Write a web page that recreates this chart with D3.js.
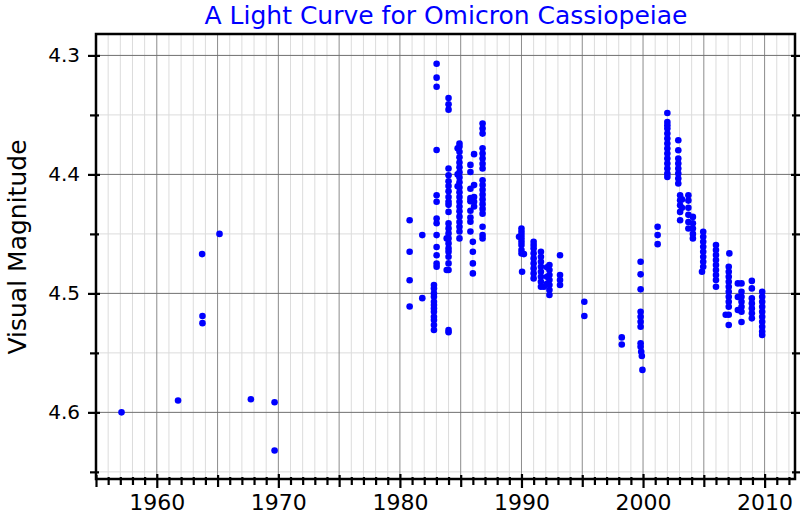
<!DOCTYPE html>
<html>
<head>
<meta charset="utf-8">
<script src="https://cdn.jsdelivr.net/npm/d3@7"></script>
<style>
  body { margin: 0; background: #fff; }
  svg { font-family: 'DejaVu Sans', sans-serif; }
</style>
</head>
<body>
<div id="chart"></div>
<script>
// observations as [year, visual magnitude], grouped by era
const early = [
  [1957.1, 4.600], [1961.75, 4.590], [1963.73, 4.467], [1963.76, 4.519], [1963.76, 4.525],
  [1965.16, 4.450], [1967.74, 4.589], [1969.69, 4.5915], [1969.69, 4.632]
]

const max1985 = [
  [1980.8, 4.4385], [1980.8, 4.465], [1980.8, 4.489], [1980.8, 4.511],
  [1981.84, 4.451], [1981.84, 4.504],
  [1983.02, 4.307], [1983.02, 4.3187], [1983.02, 4.3263], [1983.02, 4.3795], [1983.02, 4.4175],
  [1983.02, 4.423], [1983.02, 4.437], [1983.02, 4.441], [1983.02, 4.451], [1983.02, 4.461],
  [1983.02, 4.468], [1983.02, 4.475], [1983.02, 4.4776],
  [1982.8, 4.493], [1982.8, 4.4958], [1982.8, 4.5], [1982.8, 4.5028], [1982.8, 4.507],
  [1982.8, 4.5098], [1982.8, 4.5126], [1982.8, 4.5154], [1982.8, 4.5196], [1982.8, 4.5224],
  [1982.8, 4.5266], [1982.8, 4.5308],
  [1984.0, 4.3358], [1984.0, 4.341], [1984.0, 4.3456], [1984.0, 4.395], [1984.0, 4.4007],
  [1984.0, 4.4057], [1984.0, 4.4097], [1984.0, 4.4141], [1984.0, 4.419], [1984.0, 4.423],
  [1984.0, 4.4256], [1984.0, 4.4315], [1984.0, 4.4412], [1984.0, 4.4454], [1984.0, 4.4496],
  [1984.0, 4.4538], [1984.0, 4.458], [1984.0, 4.4622], [1984.0, 4.465], [1984.0, 4.4692],
  [1984.0, 4.4748], [1984.0, 4.4804], [1984.0, 4.5308], [1984.0, 4.5327],
  [1983.85, 4.4804], [1983.85, 4.4538],
  [1984.9, 4.374], [1984.9, 4.3765], [1984.9, 4.381], [1984.9, 4.3856], [1984.9, 4.39],
  [1984.9, 4.394], [1984.9, 4.3982], [1984.9, 4.4025], [1984.9, 4.4067], [1984.9, 4.411],
  [1984.9, 4.415], [1984.9, 4.419], [1984.9, 4.423], [1984.9, 4.427], [1984.9, 4.431],
  [1984.9, 4.4355], [1984.9, 4.44], [1984.9, 4.444], [1984.9, 4.448], [1984.9, 4.4538],
  [1984.75, 4.378], [1984.75, 4.4], [1984.75, 4.41],
  [1985.8, 4.392], [1985.8, 4.398], [1985.8, 4.412], [1985.8, 4.4198], [1985.8, 4.4225],
  [1985.8, 4.4306], [1985.8, 4.4362], [1985.8, 4.4398], [1985.8, 4.448],
  [1986.1, 4.383], [1986.1, 4.409], [1986.1, 4.419], [1986.1, 4.423], [1986.1, 4.427],
  [1986.0, 4.4567], [1986.0, 4.465], [1986.0, 4.4748], [1986.0, 4.4832],
  [1986.8, 4.3573], [1986.8, 4.3615], [1986.8, 4.3657], [1986.8, 4.378], [1986.8, 4.3825],
  [1986.8, 4.3867], [1986.8, 4.391], [1986.8, 4.395], [1986.8, 4.405], [1986.8, 4.409],
  [1986.8, 4.413], [1986.8, 4.417], [1986.8, 4.421], [1986.8, 4.425], [1986.8, 4.429],
  [1986.8, 4.433], [1986.8, 4.444], [1986.8, 4.451], [1986.8, 4.4538]
]

const fade1990 = [
  [1990.0, 4.4455], [1990.0, 4.4483], [1990.0, 4.451], [1990.0, 4.4538], [1990.0, 4.4566],
  [1990.0, 4.4594], [1990.0, 4.4636], [1990.0, 4.4664], [1990.05, 4.4818], [1989.8, 4.4524],
  [1990.2, 4.467],
  [1991.0, 4.4567], [1991.0, 4.4594], [1991.0, 4.4622], [1991.0, 4.4664], [1991.0, 4.4706],
  [1991.0, 4.4748], [1991.0, 4.479], [1991.0, 4.4832], [1991.0, 4.4874],
  [1991.6, 4.465], [1991.6, 4.4692], [1991.6, 4.4734], [1991.6, 4.4776], [1991.6, 4.4818],
  [1991.6, 4.486], [1991.6, 4.4902], [1991.6, 4.4944], [1991.85, 4.4944],
  [1992.3, 4.4762], [1992.3, 4.4804], [1992.3, 4.4846], [1992.3, 4.4888], [1992.3, 4.493],
  [1992.3, 4.4972], [1992.3, 4.5014], [1992.1, 4.478], [1992.1, 4.486], [1992.1, 4.492],
  [1993.17, 4.468], [1993.17, 4.4846], [1993.17, 4.4888], [1993.17, 4.493]
]

const minimum1999 = [
  [1995.17, 4.507], [1995.17, 4.519], [1998.25, 4.537], [1998.25, 4.543],
  [1999.8, 4.4734], [1999.8, 4.484], [1999.8, 4.4966], [1999.8, 4.5154], [1999.8, 4.5196],
  [1999.8, 4.5238], [1999.8, 4.528], [1999.8, 4.5419], [1999.8, 4.5448], [1999.85, 4.549],
  [1999.9, 4.5526], [1999.95, 4.5643]
]

const max2002 = [
  [2001.2, 4.4441], [2001.2, 4.451], [2001.2, 4.4586],
  [2002.0, 4.3484], [2002.0, 4.356], [2002.0, 4.3587], [2002.0, 4.3615], [2002.0, 4.3657],
  [2002.0, 4.3699], [2002.0, 4.3741], [2002.0, 4.3783], [2002.0, 4.3825], [2002.0, 4.3867],
  [2002.0, 4.3909], [2002.0, 4.395], [2002.0, 4.3993], [2002.0, 4.4021],
  [2002.9, 4.3713], [2002.9, 4.3797], [2002.9, 4.3867], [2002.9, 4.3909], [2002.9, 4.395],
  [2002.9, 4.3993], [2002.9, 4.4035], [2002.9, 4.4077],
  [2003.05, 4.4175], [2003.05, 4.4217], [2003.05, 4.4259], [2003.05, 4.4315], [2003.05, 4.4385],
  [2003.2, 4.421], [2003.2, 4.428],
  [2003.73, 4.4175], [2003.73, 4.422], [2003.73, 4.428], [2003.73, 4.434], [2003.73, 4.44],
  [2003.73, 4.4455],
  [2004.1, 4.4357], [2004.1, 4.441], [2004.1, 4.4455], [2004.1, 4.45], [2004.1, 4.4538]
]

const fade2008 = [
  [2004.95, 4.4483], [2004.95, 4.4524], [2004.95, 4.4566], [2004.95, 4.4608], [2004.95, 4.465],
  [2004.95, 4.4692], [2004.95, 4.4734], [2004.95, 4.4776], [2004.85, 4.4818],
  [2006.0, 4.4594], [2006.0, 4.4636], [2006.0, 4.4678], [2006.0, 4.472], [2006.0, 4.4762],
  [2006.0, 4.4804], [2006.0, 4.4846], [2006.0, 4.4888], [2006.0, 4.4944],
  [2007.1, 4.4664], [2007.05, 4.4776], [2007.05, 4.4818], [2007.05, 4.486], [2007.05, 4.4902],
  [2007.05, 4.4944], [2007.05, 4.4986], [2007.05, 4.5028], [2007.05, 4.507], [2007.05, 4.5112],
  [2007.05, 4.518], [2007.05, 4.5266], [2006.8, 4.518],
  [2008.1, 4.4916], [2008.1, 4.4986], [2008.1, 4.5028], [2008.1, 4.507], [2008.1, 4.5112],
  [2008.1, 4.5154], [2008.1, 4.524], [2007.8, 4.4916], [2007.8, 4.503], [2007.8, 4.514],
  [2008.95, 4.4895], [2008.95, 4.4958], [2008.95, 4.5042], [2008.95, 4.5084], [2008.95, 4.5126],
  [2008.95, 4.5168], [2008.95, 4.521],
  [2009.8, 4.4986], [2009.8, 4.5028], [2009.8, 4.507], [2009.8, 4.5112], [2009.8, 4.5154],
  [2009.8, 4.5196], [2009.8, 4.5238], [2009.8, 4.528], [2009.8, 4.532], [2009.8, 4.535]
]

const yearTicks = [1960, 1970, 1980, 1990, 2000, 2010]
const magTicks = [4.3, 4.4, 4.5, 4.6]

const width = 800
const height = 520
const margin = { top: 34, right: 5, bottom: 41, left: 96 }

const svg = d3.select('#chart')
  .append('svg')
  .attr('width', width)
  .attr('height', height)

const x = d3.scaleLinear()
  .domain([1955, 2012.5])
  .range([margin.left, width - margin.right])

// magnitudes: brighter (smaller) at the top
const y = d3.scaleLinear()
  .domain([4.282, 4.656])
  .range([margin.top, height - margin.bottom])

const allYears = d3.range(1955, 2013)
const allMags = d3.range(4.30, 4.66, 0.05).map(d => +d.toFixed(2))
const isMajorMag = d => Math.abs(d * 10 - Math.round(d * 10)) < 1e-6

// grid
const grid = svg.append('g').attr('class', 'grid')
grid.selectAll('line.vminor')
  .data(allYears.filter(d => d % 5 !== 0))
  .enter().append('line')
  .attr('x1', d => x(d)).attr('x2', d => x(d))
  .attr('y1', margin.top).attr('y2', height - margin.bottom)
  .attr('stroke', '#dcdcdc').attr('stroke-width', 1)
grid.selectAll('line.hminor')
  .data(allMags.filter(d => !isMajorMag(d)))
  .enter().append('line')
  .attr('x1', margin.left).attr('x2', width - margin.right)
  .attr('y1', d => y(d)).attr('y2', d => y(d))
  .attr('stroke', '#dcdcdc').attr('stroke-width', 1)
grid.selectAll('line.vmajor')
  .data(allYears.filter(d => d % 5 === 0))
  .enter().append('line')
  .attr('x1', d => x(d)).attr('x2', d => x(d))
  .attr('y1', margin.top).attr('y2', height - margin.bottom)
  .attr('stroke', '#8c8c8c').attr('stroke-width', 1)
grid.selectAll('line.hmajor')
  .data(allMags.filter(isMajorMag))
  .enter().append('line')
  .attr('x1', margin.left).attr('x2', width - margin.right)
  .attr('y1', d => y(d)).attr('y2', d => y(d))
  .attr('stroke', '#707070').attr('stroke-width', 1)

// points
const points = [].concat(early, max1985, fade1990, minimum1999, max2002, fade2008)
svg.append('g')
  .selectAll('circle')
  .data(points)
  .enter().append('circle')
  .attr('cx', d => x(d[0]))
  .attr('cy', d => y(d[1]))
  .attr('r', 3.3)
  .attr('fill', '#0000ff')

// frame
svg.append('rect')
  .attr('x', margin.left).attr('y', margin.top)
  .attr('width', width - margin.left - margin.right)
  .attr('height', height - margin.top - margin.bottom)
  .attr('fill', 'none').attr('stroke', '#000').attr('stroke-width', 2.5)

// ticks crossing the axis line
function crossTicks (axis, inner, outer, sign) {
  return g => {
    g.call(axis.tickSize(outer))
    g.select('.domain').remove()
    g.selectAll('.tick line').attr('stroke', '#000').attr('stroke-width', 2.2)
    g.selectAll('.tick line').attr(sign.attr, sign.dir * inner)
  }
}

const bottom = height - margin.bottom
svg.append('g').attr('transform', `translate(0,${bottom})`)
  .call(crossTicks(d3.axisBottom(x).tickValues(allYears.filter(d => d % 5 !== 0)).tickFormat(''), 2, 6, { attr: 'y1', dir: -1 }))
svg.append('g').attr('transform', `translate(0,${bottom})`)
  .call(crossTicks(d3.axisBottom(x).tickValues([1955, 1965, 1975, 1985, 1995, 2005]).tickFormat(''), 4, 8, { attr: 'y1', dir: -1 }))
svg.append('g').attr('class', 'xlabels').attr('transform', `translate(0,${bottom})`)
  .call(crossTicks(d3.axisBottom(x).tickValues(yearTicks).tickFormat(d3.format('d')).tickPadding(6), 5, 9, { attr: 'y1', dir: -1 }))

const minorMags = allMags.filter(d => !isMajorMag(d))
svg.append('g').attr('transform', `translate(${margin.left},0)`)
  .call(crossTicks(d3.axisLeft(y).tickValues(minorMags).tickFormat(''), 3, 6, { attr: 'x1', dir: 1 }))
svg.append('g').attr('class', 'ylabels').attr('transform', `translate(${margin.left},0)`)
  .call(crossTicks(d3.axisLeft(y).tickValues(magTicks).tickFormat(d3.format('.1f')).tickPadding(8), 4, 8, { attr: 'x1', dir: 1 }))
svg.append('g').attr('transform', `translate(${width - margin.right},0)`)
  .call(crossTicks(d3.axisRight(y).tickValues(minorMags).tickFormat(''), 3, 6, { attr: 'x1', dir: -1 }))
svg.append('g').attr('transform', `translate(${width - margin.right},0)`)
  .call(crossTicks(d3.axisRight(y).tickValues(magTicks).tickFormat(''), 4, 8, { attr: 'x1', dir: -1 }))

svg.selectAll('.xlabels text, .ylabels text')
  .attr('font-family', "'DejaVu Sans', sans-serif")
  .attr('fill', '#000')
svg.selectAll('.xlabels text').attr('font-size', 22)
svg.selectAll('.ylabels text').attr('font-size', 20)

// title and axis label
svg.append('text')
  .attr('x', 446).attr('y', 24)
  .attr('text-anchor', 'middle')
  .attr('font-size', 25)
  .attr('fill', '#0000ff')
  .text('A Light Curve for Omicron Cassiopeiae')

svg.append('text')
  .attr('transform', 'translate(26,247) rotate(-90)')
  .attr('text-anchor', 'middle')
  .attr('font-size', 25)
  .attr('fill', '#000')
  .text('Visual Magnitude')
</script>
</body>
</html>
